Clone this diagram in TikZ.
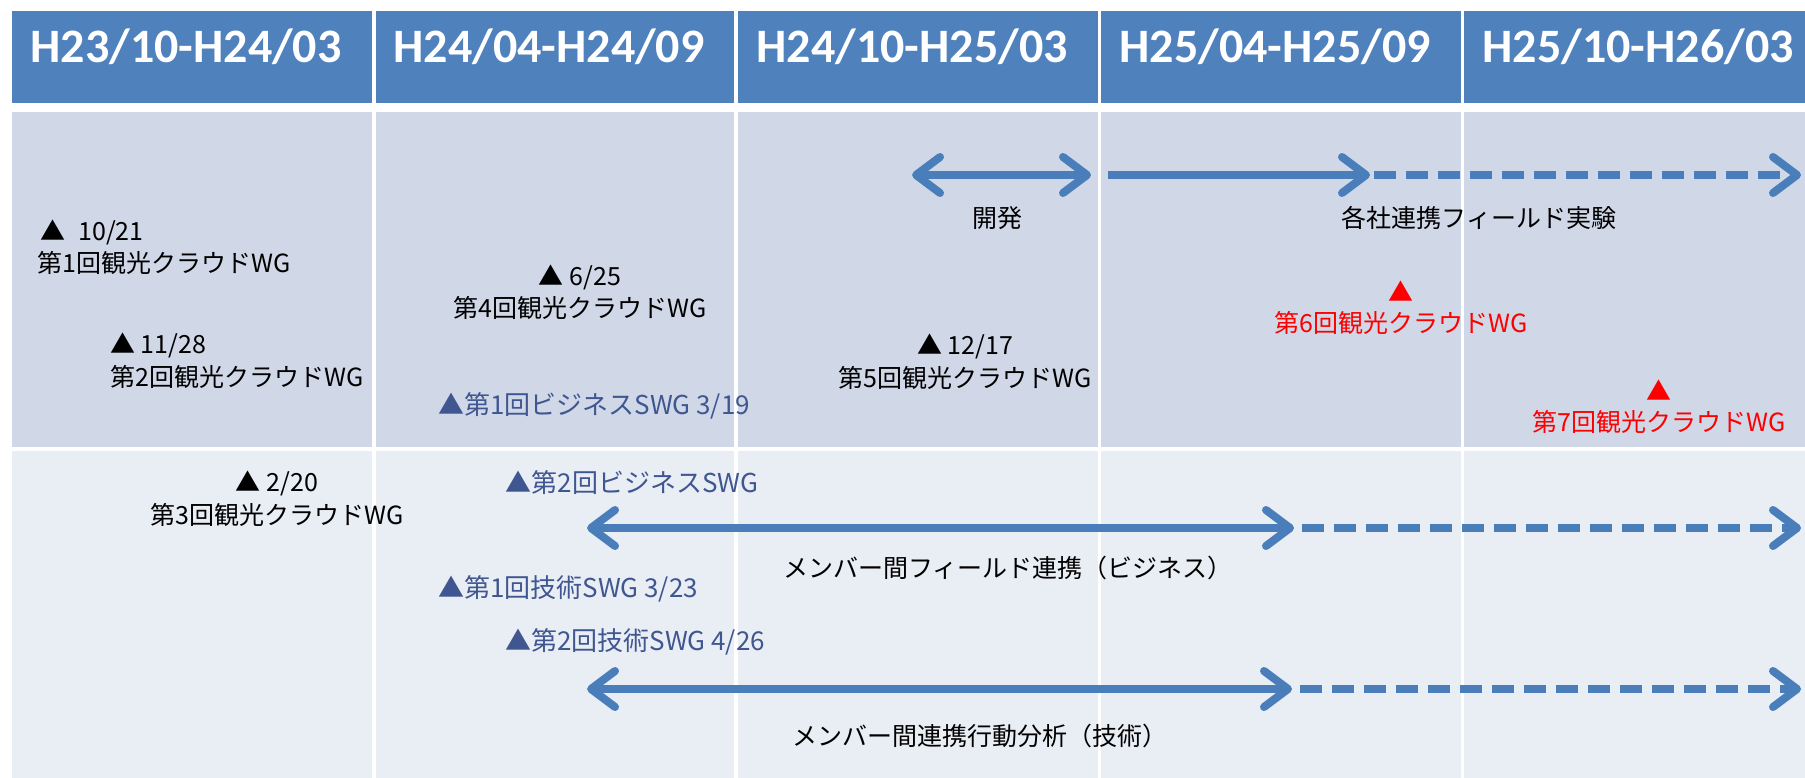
\documentclass[tikz,border=0pt]{standalone}
\usepackage{fontspec}
\setmainfont{Noto Sans CJK JP}
\newfontfamily\hdrfont{Carlito}
\usetikzlibrary{arrows.meta}
\definecolor{hdrblue}{HTML}{4F81BD}
\definecolor{bandA}{HTML}{D0D8E8}
\definecolor{bandB}{HTML}{E9EDF4}
\definecolor{arrblue}{HTML}{4A7EBB}
\definecolor{swgblue}{HTML}{3F5690}
\definecolor{wgred}{HTML}{FF0000}
\tikzset{chev/.tip={Straight Barb[length=24pt, width=36pt, round]}}
\begin{document}
\begin{tikzpicture}[x=1pt,y=-1pt,
  hdrtext/.style={text=white, font=\hdrfont\bfseries\fontsize{48}{50}\selectfont, anchor=base, inner sep=0pt},
  lbl/.style={font=\fontsize{25}{29}\selectfont, inner sep=0pt, text=black},
  swg/.style={lbl, text=swgblue, font=\fontsize{26}{29}\selectfont},
  redlbl/.style={lbl, text=wgred},
  arr/.style={draw=arrblue, line width=8pt},
  arrdash/.style={arr, dash pattern=on 22pt off 10pt}
]
\useasboundingbox (0,0) rectangle (1805,778);
\fill[white] (0,0) rectangle (1805,778);
% columns
\foreach \xl/\xr in {12/372, 376/734, 738/1098, 1101/1461, 1464/1824}{
  \fill[hdrblue] (\xl,11) rectangle (\xr,103);
  \fill[bandA] (\xl,112) rectangle (\xr,447);
  \fill[bandB] (\xl,451) rectangle (\xr,778);
}
% headers
\node[hdrtext] (h1) at (186,63) {H23/10-H24/03};
\node[hdrtext] (h2) at (549,63) {H24/04-H24/09};
\node[hdrtext] (h3) at (912,63) {H24/10-H25/03};
\node[hdrtext] (h4) at (1275,63) {H25/04-H25/09};
\node[hdrtext] (h5) at (1638,63) {H25/10-H26/03};
% upper band labels
\node[lbl] (d1) at (92,232) {▲\hspace{13pt}10/21};
\node[lbl] (w1) at (164,263) {第1回観光クラウドWG};
\node[lbl] (d2) at (158,345) {▲ 11/28};
\node[lbl] (w2) at (237,377) {第2回観光クラウドWG};
\node[lbl] (d4) at (580,277) {▲ 6/25};
\node[lbl] (w4) at (580,308) {第4回観光クラウドWG};
\node[swg] (b1) at (594,406) {▲第1回ビジネスSWG 3/19};
\node[lbl] (dev) at (997,218) {開発};
\node[lbl] (fld) at (1479,218) {各社連携フィールド実験};
\node[lbl] (d5) at (965,346) {▲ 12/17};
\node[lbl] (w5) at (965,378) {第5回観光クラウドWG};
\node[redlbl] (d6) at (1401,291) {▲};
\node[redlbl] (w6) at (1401,323) {第6回観光クラウドWG};
\node[redlbl] (d7) at (1659,390) {▲};
\node[redlbl] (w7) at (1659,422) {第7回観光クラウドWG};
% lower band labels
\node[lbl] (d3) at (277,483) {▲ 2/20};
\node[lbl] (w3) at (277,515) {第3回観光クラウドWG};
\node[swg] (b2) at (632,483) {▲第2回ビジネスSWG};
\node[lbl] (biz) at (1008,568) {メンバー間フィールド連携（ビジネス）};
\node[swg] (t1) at (568,589) {▲第1回技術SWG 3/23};
\node[swg] (t2) at (635,642) {▲第2回技術SWG 4/26};
\node[lbl] (tec) at (980,736) {メンバー間連携行動分析（技術）};
% arrow coordinates
\coordinate (devL) at (912,175);
\coordinate (devR) at (1091,175);
\coordinate (fldA) at (1108,175);
\coordinate (fldB) at (1370,175);
\coordinate (fldC) at (1374,175);
\coordinate (fldD) at (1801,175);
\coordinate (bizA) at (587,528);
\coordinate (bizB) at (1294,528);
\coordinate (bizC) at (1302,528);
\coordinate (bizD) at (1801,528);
\coordinate (tecA) at (587,689);
\coordinate (tecB) at (1292,689);
\coordinate (tecC) at (1300,689);
\coordinate (tecD) at (1801,689);
% arrows
\draw[arr, chev-chev] (devL) -- (devR);
\draw[arr, -chev] (fldA) -- (fldB);
\draw[arrdash, -chev] (fldC) -- (fldD);
\draw[arr, chev-chev] (bizA) -- (bizB);
\draw[arrdash, -chev] (bizC) -- (bizD);
\draw[arr, chev-chev] (tecA) -- (tecB);
\draw[arrdash, -chev] (tecC) -- (tecD);
\end{tikzpicture}
\end{document}
